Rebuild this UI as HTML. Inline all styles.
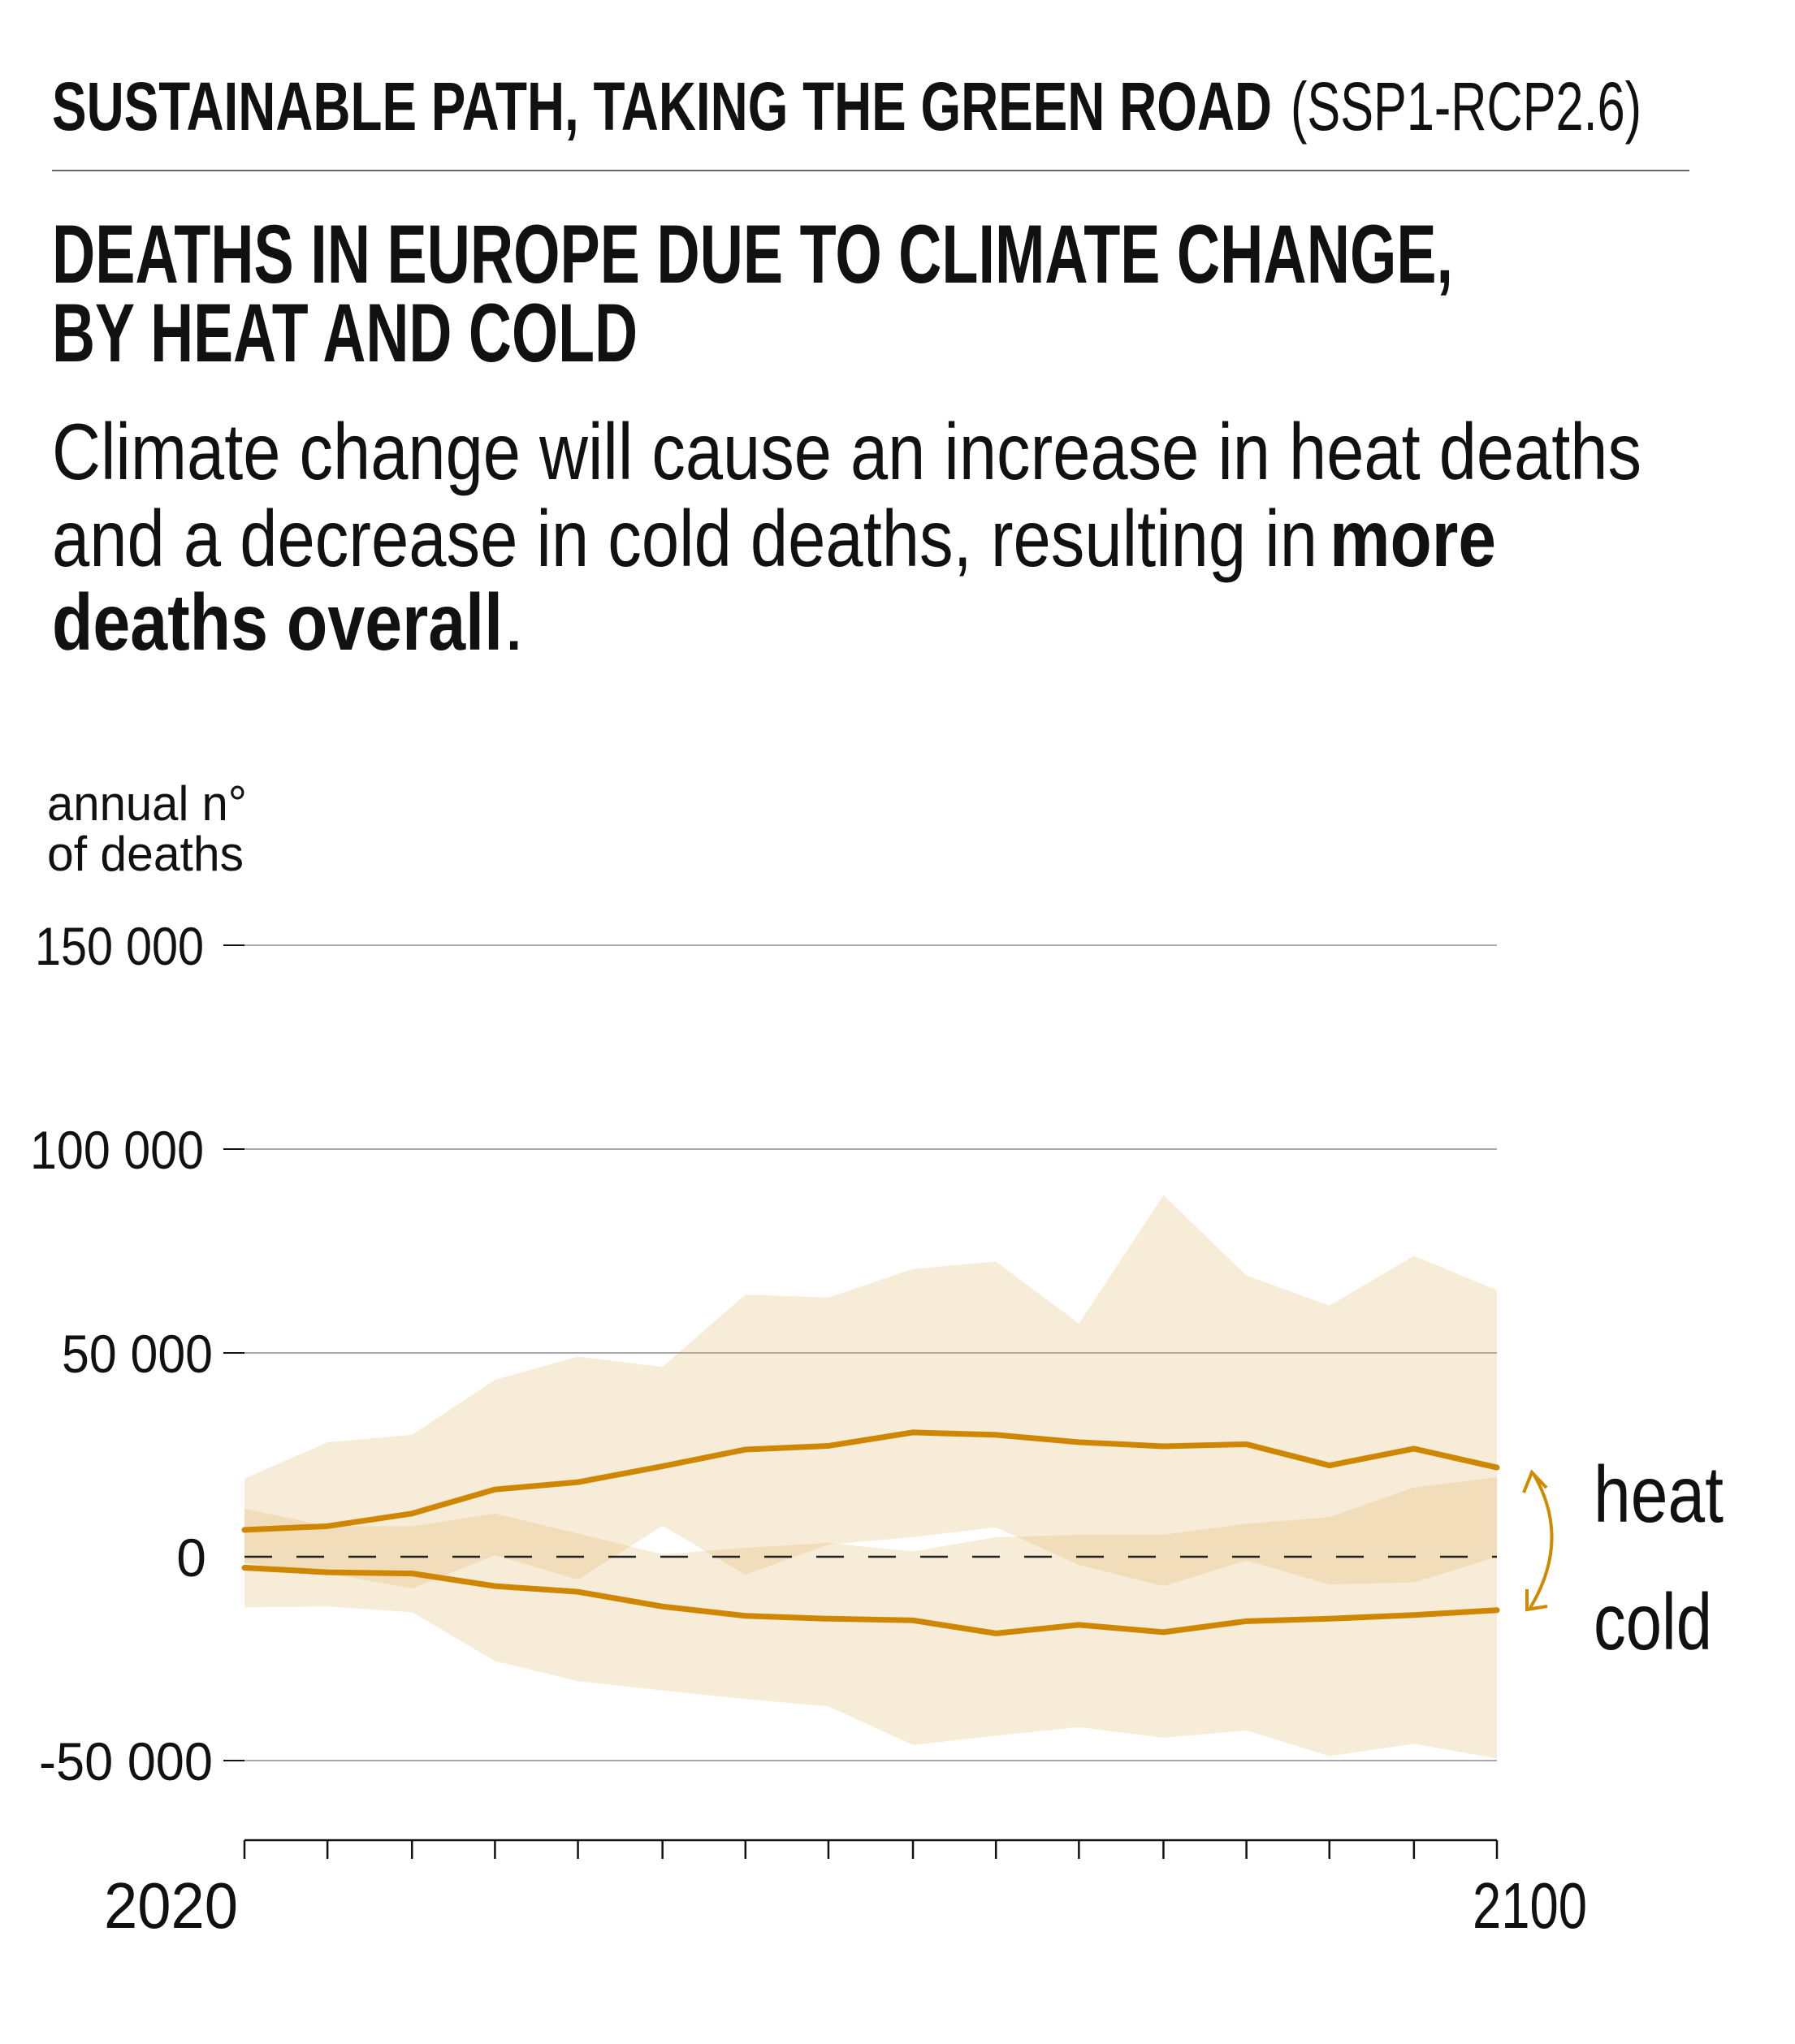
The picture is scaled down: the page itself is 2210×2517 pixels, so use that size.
<!DOCTYPE html>
<html><head><meta charset="utf-8"><style>
html,body{margin:0;padding:0;background:#fff}
svg{display:block}
text{font-family:"Liberation Sans",sans-serif;fill:#111}
</style></head><body>
<svg id="chart" width="2210" height="2517" viewBox="0 0 2210 2517" xmlns="http://www.w3.org/2000/svg">
<text x="64" y="160" font-size="84" font-weight="bold" textLength="1502" lengthAdjust="spacingAndGlyphs">SUSTAINABLE PATH, TAKING THE GREEN ROAD</text>
<text x="1589" y="160" font-size="84" textLength="432" lengthAdjust="spacingAndGlyphs">(SSP1-RCP2.6)</text>
<line x1="64" y1="210" x2="2080" y2="210" stroke="#666" stroke-width="2"/>
<text x="64" y="348" font-size="102" font-weight="bold" textLength="1725" lengthAdjust="spacingAndGlyphs">DEATHS IN EUROPE DUE TO CLIMATE CHANGE,</text>
<text x="64" y="445" font-size="102" font-weight="bold" textLength="721" lengthAdjust="spacingAndGlyphs">BY HEAT AND COLD</text>
<text x="64" y="590" font-size="98" textLength="1957" lengthAdjust="spacingAndGlyphs">Climate change will cause an increase in heat deaths</text>
<text x="64" y="697" font-size="98" textLength="1558" lengthAdjust="spacingAndGlyphs">and a decrease in cold deaths, resulting in</text>
<text x="1637" y="697" font-size="98" font-weight="bold" textLength="205" lengthAdjust="spacingAndGlyphs">more</text>
<text x="64" y="800" font-size="98" font-weight="bold" textLength="555" lengthAdjust="spacingAndGlyphs">deaths overall</text>
<text x="619" y="800" font-size="98">.</text>
<text x="58" y="1010" font-size="60" textLength="246" lengthAdjust="spacingAndGlyphs">annual n°</text>
<text x="58" y="1072" font-size="60" textLength="242" lengthAdjust="spacingAndGlyphs">of deaths</text>
<g id="grid"></g><g id="bands"></g><g id="lines"></g><g id="axes"></g>
<text x="1962" y="1874" font-size="98" textLength="160" lengthAdjust="spacingAndGlyphs">heat</text>
<text x="1962" y="2031" font-size="98" textLength="146" lengthAdjust="spacingAndGlyphs">cold</text>
<path d="M1888,1815 Q1935,1895 1884,1980" fill="none" stroke="#d08a00" stroke-width="4"/>
<path d="M1876,1838 L1886,1813 L1904,1832" fill="none" stroke="#d08a00" stroke-width="4"/>
<path d="M1880,1957 L1880,1982 L1905,1978" fill="none" stroke="#d08a00" stroke-width="4"/>
</svg>
<script>
const years = [2020,2025.3,2030.7,2036,2041.3,2046.7,2052,2057.3,2062.7,2068,2073.3,2078.7,2084,2089.3,2094.7,2100];
const heatMean  = [6.6,7.5,10.6,16.5,18.3,22.2,26.3,27.2,30.5,29.9,28.1,27.1,27.6,22.4,26.5,21.9];
const heatUpper = [19.2,28.1,29.9,43.4,49.1,46.6,64.3,63.6,70.6,72.4,57.2,88.7,69.0,61.6,73.8,65.4];
const heatLower = [-1.5,-4,-7.8,0.4,-5.6,7.6,-4.4,3.0,4.8,7.2,-2.0,-7.2,-0.9,-6.8,-6.3,0];
const coldUpper = [11.8,7.5,7.5,10.6,5.7,0.6,2.2,3.4,1.3,4.8,5.4,5.4,8.1,9.7,17.0,19.5];
const coldLower = [-12.4,-12.2,-13.6,-25.6,-30.5,-32.8,-34.9,-36.7,-46.2,-43.9,-41.8,-44.4,-42.6,-48.9,-45.9,-49.5];
const coldMean  = [-2.7,-3.8,-4.1,-7.2,-8.6,-12.2,-14.5,-15.2,-15.6,-18.8,-16.7,-18.5,-15.8,-15.2,-14.3,-13.1];
const yTicks = [150,100,50,0,-50];
const yTickLabels = ["150 000","100 000","50 000","0","-50 000"];
const xLabels = ["2020","2100"];
const NS="http://www.w3.org/2000/svg";
const X0=301,X1=1843,Y0=1917,PER=251/50;
const xs=y=>X0+(y-2020)/80*(X1-X0);
const ys=v=>Y0-v*PER;
function mk(tag,attrs,parent){const e=document.createElementNS(NS,tag);for(const k in attrs)e.setAttribute(k,attrs[k]);parent.appendChild(e);return e;}
const grid=document.getElementById('grid'),bands=document.getElementById('bands'),lines=document.getElementById('lines'),axes=document.getElementById('axes');
const labelW={"150 000":208,"100 000":214,"50 000":186,"-50 000":214};
yTicks.forEach((t,i)=>{
  const y=ys(t);
  if(t!==0){const l=mk('line',{x1:X0,x2:X1,y1:y,y2:y,stroke:'#aaa','stroke-width':2},grid);
  
  
  const tk=mk('line',{x1:275,x2:301,y1:y,y2:y,stroke:'#111','stroke-width':2},grid);
  
  }
  const lab=yTickLabels[i];
  const right=t===50||t===-50?262:(t===0?254:251);
  const attrs={x:right,y:y+24,'font-size':66,'text-anchor':'end'};
  if(labelW[lab]){attrs.textLength=labelW[lab];attrs.lengthAdjust='spacingAndGlyphs';}
  const tx=mk('text',attrs,grid);
  tx.textContent=lab;
  
  
});
function band(up,lo,name){
  let d='M'+years.map((y,i)=>xs(y)+','+ys(up[i])).join('L');
  for(let i=years.length-1;i>=0;i--)d+='L'+xs(years[i])+','+ys(lo[i]);
  const p=mk('path',{d:d+'Z',fill:'#dcae5c','fill-opacity':0.24},bands);
  
  
}
band(heatUpper,heatLower,'heat-range-band');
band(coldUpper,coldLower,'cold-range-band');
const zl=mk('line',{x1:X0,x2:X1,y1:Y0,y2:Y0,stroke:'#222','stroke-width':2.5,'stroke-dasharray':'34 30'},lines);


function line(v,name){
  const p=mk('polyline',{points:years.map((y,i)=>xs(y)+','+ys(v[i])).join(' '),fill:'none',stroke:'#cf8600','stroke-width':7,'stroke-linecap':'round','stroke-linejoin':'round'},lines);
  
  
}
line(heatMean,'heat-mean-line');
line(coldMean,'cold-mean-line');
const ax=mk('line',{x1:X0,x2:X1,y1:2266,y2:2266,stroke:'#111','stroke-width':2.5},axes);


years.forEach(y=>{const t=mk('line',{x1:xs(y),x2:xs(y),y1:2266,y2:2289,stroke:'#111','stroke-width':2.5},axes);
  
  });
xLabels.forEach((l,i)=>{const t=mk('text',{x:i===0?128:1813,y:2374,'font-size':80,textLength:i===0?165:141,lengthAdjust:'spacingAndGlyphs'},axes);
  t.textContent=l;
  
  });
</script>
</body></html>
